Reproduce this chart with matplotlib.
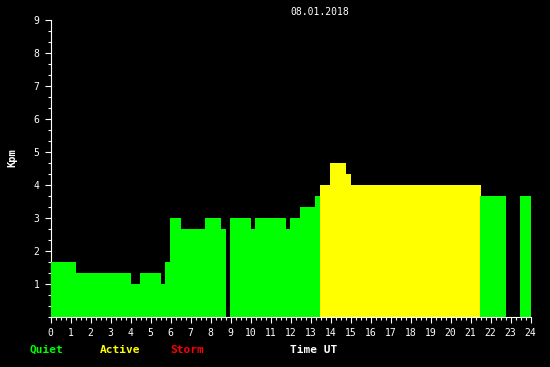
import matplotlib
matplotlib.use("Agg")
import matplotlib.pyplot as plt
import numpy as np

# Step segments of Kpm (start hour, end hour, value)
seg_start = [0.0, 1.275, 4.025, 4.475, 5.525, 5.725, 5.975, 6.525, 7.725, 8.525,
             8.975, 10.025, 10.225, 11.775, 11.975, 12.475, 13.225, 13.475, 13.975,
             14.775, 15.025, 21.475, 23.475]
seg_end = [1.275, 4.025, 4.475, 5.525, 5.725, 5.975, 6.525, 7.725, 8.525, 8.775,
           10.025, 10.225, 11.775, 11.975, 12.475, 13.225, 13.475, 13.975, 14.775,
           15.025, 21.525, 22.775, 24.0]
kpm = [5/3, 4/3, 1.0, 4/3, 1.0, 5/3, 3.0, 8/3, 3.0, 8/3,
       3.0, 8/3, 3.0, 8/3, 3.0, 10/3, 11/3, 4.0, 14/3,
       13/3, 4.0, 11/3, 11/3]

title = "08.01.2018"
x_ticks = list(range(0, 25))
y_ticks = list(range(1, 10))
legend_labels = ["Quiet", "Active", "Storm"]
legend_colors = ["#00ff00", "#ffff00", "#ff0000"]


def level_color(v):
    if v >= 5:
        return "#ff0000"
    if v >= 4:
        return "#ffff00"
    return "#00ff00"


W, H = 550, 367
fig = plt.figure(figsize=(W / 100, H / 100), dpi=100, facecolor="black")
ax = fig.add_axes([50.5 / W, 1 - 317.3 / H, 480 / W, 297 / H])
ax.set_facecolor("black")

for s, e, v in zip(seg_start, seg_end, kpm):
    ax.bar(s, v, width=e - s, align="edge", color=level_color(v),
           linewidth=0, antialiased=False, zorder=3)

ax.set_xlim(0, 24)
ax.set_ylim(0, 9)

mono = "DejaVu Sans Mono"
ax.set_xticks(x_ticks)
ax.set_xticks(np.arange(0, 24.01, 0.25), minor=True)
ax.set_yticks(y_ticks)
ax.set_yticks(np.arange(0, 9.01, 1 / 3), minor=True)
ax.set_xticklabels([str(t) for t in x_ticks], fontfamily=mono, fontsize=7, color="white")
ax.set_yticklabels([str(t) for t in y_ticks], fontfamily=mono, fontsize=7, color="white")
ax.tick_params(which="major", length=4, width=0.8, color="white", direction="out", pad=4)
ax.tick_params(which="minor", length=2.2, width=0.8, color="white", direction="out")

for side in ["top", "right"]:
    ax.spines[side].set_visible(False)
for side in ["left", "bottom"]:
    ax.spines[side].set_color("white")
    ax.spines[side].set_linewidth(0.8)
    ax.spines[side].set_zorder(2)

fig.text(320 / W, 1 - 12 / H, title, ha="center", va="center",
         fontfamily=mono, fontsize=7, color="white")
fig.text(12.5 / W, 1 - 158 / H, "Kpm", ha="center", va="center", rotation=90,
         fontfamily=mono, fontsize=7.5, fontweight="bold", color="white")

legend_x = [30, 100, 170]
for lx, lab, col in zip(legend_x, legend_labels, legend_colors):
    fig.text(lx / W, 1 - 350 / H, lab, ha="left", va="center",
             fontfamily=mono, fontsize=8, fontweight="bold", color=col)
fig.text(290 / W, 1 - 350 / H, "Time UT", ha="left", va="center",
         fontfamily=mono, fontsize=8, fontweight="bold", color="white")

fig.savefig("out.png", dpi=100, facecolor="black")
